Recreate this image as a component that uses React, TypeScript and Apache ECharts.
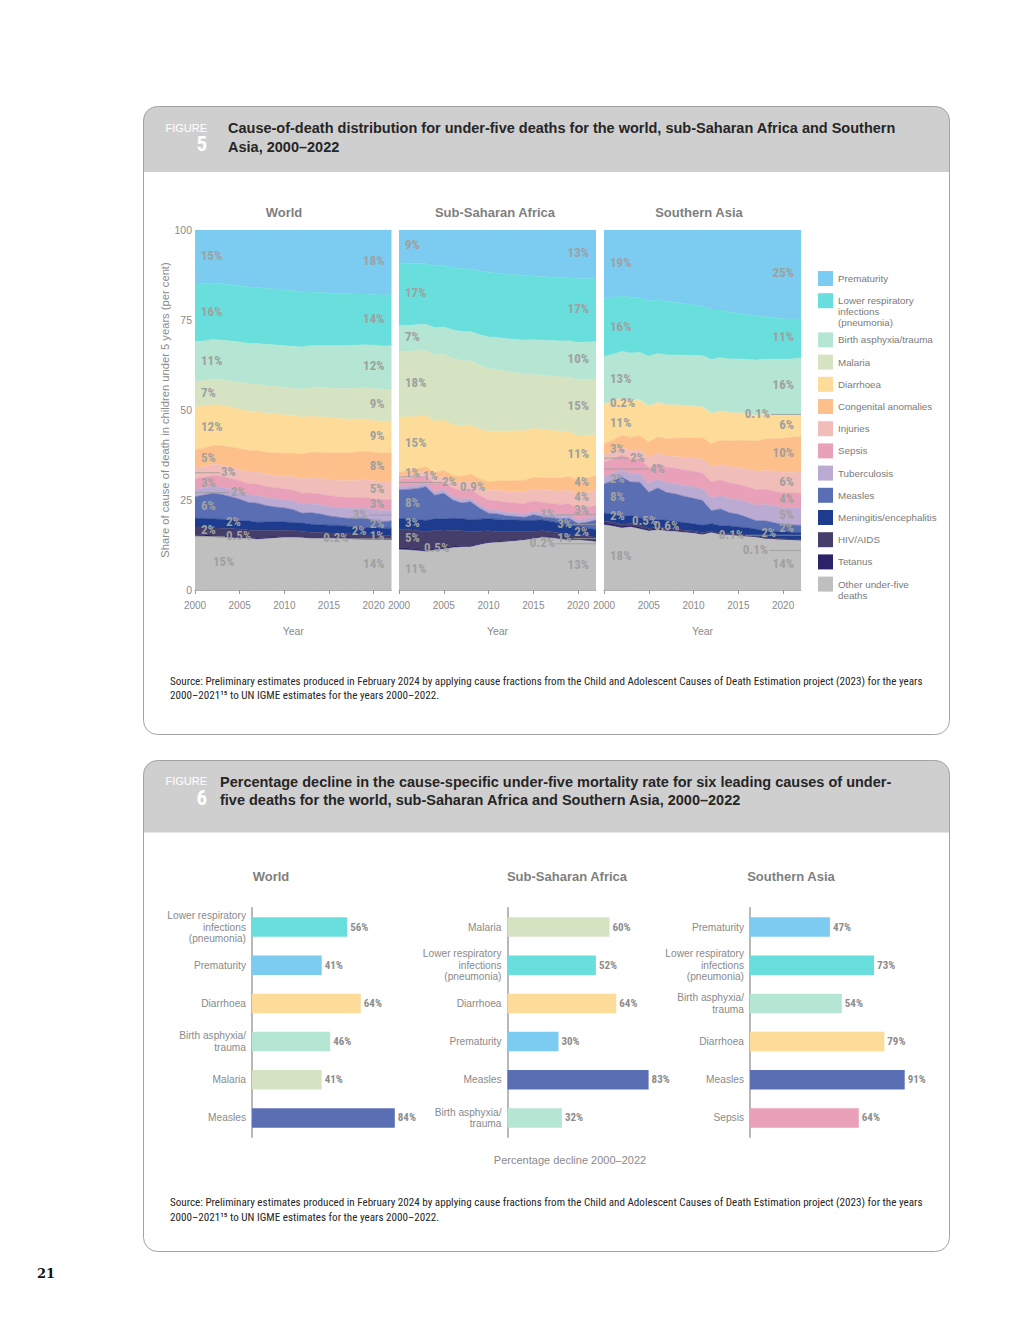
import React, { useEffect, useRef } from "react";
import * as echarts from "echarts";

// ---------- DATA ----------
const YEARS = ["2000","2001","2002","2003","2004","2005","2006","2007","2008","2009","2010","2011","2012","2013","2014","2015","2016","2017","2018","2019","2020","2021","2022"];

// World (% of under-five deaths, 2000..2022)
const W_PREM = [15.0,15.0,14.9,15.1,15.4,15.7,16.0,16.2,16.4,16.6,16.9,17.1,17.4,17.6,17.7,17.8,17.9,17.9,18.0,18.0,18.0,18.1,18.0];
const W_LRI = [16.0,16.0,15.9,15.9,15.9,15.9,15.9,15.8,15.8,15.7,15.7,15.6,15.5,15.2,15.0,14.8,14.6,14.5,14.4,14.3,14.2,14.2,14.2];
const W_BIRTH = [11.0,11.0,11.1,11.1,11.2,11.3,11.4,11.5,11.6,11.6,11.7,11.8,11.8,11.9,11.9,12.0,12.0,12.0,12.1,12.1,12.1,12.1,12.0];
const W_MALARIA = [7.0,7.1,7.2,7.3,7.4,7.6,7.7,7.8,7.8,7.8,7.7,7.7,7.9,8.1,8.3,8.4,8.5,8.6,8.7,8.8,8.9,9.0,9.0];
const W_DIARR = [12.0,11.8,11.5,11.3,11.2,11.1,11.0,10.9,10.9,10.9,10.8,10.6,10.4,10.2,10.0,9.9,9.7,9.5,9.3,9.1,8.9,8.8,8.7];
const W_CONG = [5.0,5.1,5.3,5.5,5.7,5.9,6.0,6.1,6.2,6.3,6.4,6.6,6.9,7.2,7.4,7.6,7.7,7.8,7.9,8.0,8.0,8.0,8.0];
const W_INJ = [3.0,3.0,3.1,3.1,3.2,3.2,3.3,3.4,3.4,3.5,3.6,3.8,4.1,4.3,4.4,4.5,4.6,4.7,4.8,4.9,5.0,5.0,5.0];
const W_SEPSIS = [3.0,3.0,3.1,3.1,3.1,3.1,3.2,3.2,3.2,3.1,3.1,3.1,3.1,3.1,3.1,3.1,3.1,3.0,3.0,3.0,3.0,3.0,3.0];
const W_TB = [2.0,2.0,2.0,2.0,2.0,2.1,2.1,2.2,2.2,2.3,2.3,2.4,2.5,2.5,2.6,2.6,2.7,2.8,2.8,2.9,3.0,3.0,3.0];
const W_MEASLES = [6.0,6.5,7.2,7.0,6.5,6.0,5.2,5.4,4.6,4.2,4.0,3.6,2.8,3.3,3.0,2.6,2.3,2.2,2.4,2.6,2.1,1.9,2.0];
const W_MENING = [2.4,2.4,2.5,2.5,2.5,2.5,2.5,2.4,2.4,2.4,2.3,2.3,2.3,2.3,2.2,2.2,2.2,2.1,2.1,2.1,2.0,2.0,2.0];
const W_HIV = [2.0,2.1,2.1,2.1,2.1,2.1,2.0,2.0,1.9,1.8,1.7,1.6,1.5,1.4,1.4,1.3,1.3,1.2,1.2,1.1,1.1,1.0,1.0];
const W_TETANUS = [0.5,0.5,0.5,0.5,0.5,0.4,0.4,0.4,0.4,0.3,0.3,0.3,0.3,0.3,0.3,0.2,0.2,0.2,0.2,0.2,0.2,0.2,0.2];
const W_OTHER = [15.0,15.0,14.9,14.8,14.7,14.6,14.5,14.3,14.4,14.6,14.8,14.8,14.7,14.6,14.6,14.6,14.5,14.4,14.3,14.2,14.1,14.0,14.0];

// Sub-Saharan Africa
const S_PREM = [9.0,9.2,9.3,9.5,9.8,10.0,10.3,10.6,10.9,11.2,11.5,11.8,12.0,12.2,12.4,12.6,12.7,12.8,12.9,13.0,13.0,13.0,13.0];
const S_LRI = [17.0,17.0,17.0,17.0,17.1,17.1,17.2,17.3,17.4,17.5,17.6,17.6,17.7,17.7,17.6,17.5,17.4,17.3,17.3,17.2,17.1,17.0,17.0];
const S_BIRTH = [7.0,7.1,7.2,7.3,7.5,7.6,7.8,8.0,8.2,8.4,8.6,8.8,9.0,9.2,9.4,9.5,9.6,9.7,9.8,9.9,10.0,10.0,10.0];
const S_MALARIA = [18.0,18.0,18.2,18.2,18.3,18.3,18.2,18.0,17.8,17.5,17.2,16.8,16.3,15.8,15.3,14.8,14.8,14.8,14.9,15.0,15.1,15.0,15.0];
const S_DIARR = [15.0,14.8,14.6,14.4,14.2,14.0,13.9,13.8,13.7,13.6,13.6,13.6,13.6,13.6,13.5,13.4,13.2,12.9,12.6,12.2,11.8,11.4,11.0];
const S_CONG = [1.0,1.1,1.2,1.3,1.4,1.6,1.7,1.9,2.0,2.2,2.4,2.6,2.8,3.0,3.1,3.2,3.3,3.5,3.6,3.7,3.8,3.9,4.0];
const S_INJ = [1.0,1.1,1.2,1.3,1.5,1.6,1.8,2.0,2.2,2.4,2.6,2.8,3.0,3.1,3.2,3.3,3.4,3.5,3.6,3.7,3.8,3.9,4.0];
const S_SEPSIS = [2.0,2.0,2.1,2.2,2.2,2.3,2.3,2.4,2.5,2.5,2.6,2.6,2.7,2.7,2.8,2.8,2.8,2.9,2.9,3.0,3.0,3.0,3.0];
const S_TB = [0.9,0.9,0.9,0.9,1.0,1.0,1.0,1.0,1.0,1.0,1.0,1.0,1.0,1.0,1.0,1.0,1.0,1.0,1.0,1.0,1.0,1.0,1.0];
const S_MEASLES = [7.8,8.0,8.5,9.5,6.5,7.2,5.0,4.3,5.0,3.0,1.5,1.5,1.2,1.0,0.8,1.5,1.0,1.0,1.2,2.0,0.7,1.5,2.6];
const S_MENING = [3.0,3.0,3.1,3.2,3.2,3.3,3.3,3.3,3.4,3.3,3.3,3.3,3.2,3.2,3.1,3.0,2.9,2.8,2.7,2.5,2.4,2.2,2.0];
const S_HIV = [5.0,5.1,5.1,5.0,4.9,4.7,4.4,4.1,3.8,3.4,3.0,2.7,2.4,2.2,2.0,1.8,1.6,1.5,1.4,1.2,1.1,1.0,1.0];
const S_TETANUS = [0.5,0.5,0.5,0.5,0.5,0.4,0.4,0.4,0.4,0.3,0.3,0.3,0.3,0.3,0.3,0.3,0.2,0.2,0.2,0.2,0.2,0.2,0.2];
const S_OTHER = [11.0,11.0,10.9,10.8,11.0,11.4,11.6,11.8,12.0,12.4,12.8,13.0,13.2,13.4,13.6,14.0,14.4,14.2,13.9,13.6,13.4,13.2,13.0];

// Southern Asia
const A_PREM = [19.0,19.0,18.9,19.2,19.4,19.6,19.9,20.3,20.7,21.1,21.5,21.9,22.4,22.8,23.2,23.6,24.0,24.3,24.6,24.8,25.0,25.1,25.0];
const A_LRI = [16.0,16.0,16.0,15.8,15.7,15.5,15.4,15.2,15.0,14.8,14.5,14.2,13.9,13.6,13.3,13.0,12.6,12.3,12.0,11.7,11.4,11.2,11.0];
const A_BIRTH = [13.0,13.2,13.3,13.4,13.5,13.7,13.8,14.0,14.1,14.3,14.4,14.6,15.0,15.1,15.1,15.2,15.3,15.5,15.6,15.7,15.8,15.9,16.0];
const A_MALARIA = [0.2,0.2,0.2,0.2,0.2,0.2,0.2,0.2,0.2,0.2,0.2,0.2,0.1,0.1,0.1,0.1,0.1,0.1,0.1,0.1,0.1,0.1,0.1];
const A_DIARR = [11.0,10.8,10.6,10.4,10.2,10.0,9.8,9.6,9.4,9.2,9.0,8.8,8.5,8.3,8.0,7.8,7.5,7.2,6.9,6.6,6.3,6.1,6.0];
const A_CONG = [3.0,3.2,3.5,3.8,4.0,4.3,4.6,4.9,5.2,5.5,5.8,6.1,6.5,6.9,7.3,7.7,8.1,8.5,8.9,9.3,9.6,9.8,10.0];
const A_INJ = [2.0,2.1,2.2,2.4,2.6,2.8,3.0,3.2,3.4,3.6,3.8,4.0,4.2,4.4,4.6,4.8,5.0,5.2,5.4,5.6,5.8,5.9,6.0];
const A_SEPSIS = [4.0,4.1,4.2,4.2,4.3,4.3,4.4,4.4,4.4,4.5,4.5,4.5,4.5,4.5,4.5,4.4,4.4,4.3,4.3,4.2,4.1,4.1,4.0];
const A_TB = [2.0,2.1,2.2,2.3,2.4,2.5,2.6,2.8,2.9,3.1,3.3,3.4,3.6,3.8,3.9,4.1,4.3,4.4,4.6,4.7,4.8,4.9,5.0];
const A_MEASLES = [8.0,9.5,11.3,9.5,10.2,7.8,9.0,7.9,7.9,7.5,7.3,7.1,3.6,4.8,3.8,3.6,2.9,2.4,2.8,2.4,2.0,2.0,2.0];
const A_MENING = [2.2,2.2,2.3,2.3,2.3,2.2,2.2,2.2,2.2,2.2,2.1,2.1,2.1,2.1,2.1,2.1,2.1,2.0,2.0,2.0,2.0,2.0,2.0];
const A_HIV = [0.5,0.5,0.5,0.5,0.4,0.4,0.4,0.4,0.3,0.3,0.3,0.3,0.2,0.2,0.2,0.2,0.2,0.1,0.1,0.1,0.1,0.1,0.1];
const A_TETANUS = [0.6,0.6,0.5,0.5,0.5,0.4,0.4,0.4,0.3,0.3,0.3,0.3,0.2,0.2,0.2,0.2,0.2,0.1,0.1,0.1,0.1,0.1,0.1];
const A_OTHER = [18.0,18.0,17.8,17.9,17.5,16.4,17.1,16.8,16.7,16.5,16.3,15.9,16.1,15.8,15.6,15.4,15.1,14.9,14.6,14.4,14.2,14.1,14.0];

// Causes (legend order, top of stack first)
const CAUSE_KEYS = ["prem","lri","birth","malaria","diarr","cong","inj","sepsis","tb","measles","mening","hiv","tetanus","other"];
const CAUSE_NAMES = ["Prematurity","Lower respiratory infections (pneumonia)","Birth asphyxia/trauma","Malaria","Diarrhoea","Congenital anomalies","Injuries","Sepsis","Tuberculosis","Measles","Meningitis/encephalitis","HIV/AIDS","Tetanus","Other under-five deaths"];
const LEGEND_TEXT = ["Prematurity","Lower respiratory\ninfections\n(pneumonia)","Birth asphyxia/trauma","Malaria","Diarrhoea","Congenital anomalies","Injuries","Sepsis","Tuberculosis","Measles","Meningitis/encephalitis","HIV/AIDS","Tetanus","Other under-five\ndeaths"];
const CAUSE_COLORS = ["#7ccbf1","#68dfdc","#b4e6d3","#d5e3c3","#fcdc98","#fdc08b","#f1bdb9","#e9a1b9","#bbaad2","#5a6fb3","#1e3c8e","#463e6a","#2a2367","#bfbfbf"];

const REGION_NAMES = ["World","Sub-Saharan Africa","Southern Asia"];

// Figure 6: percentage decline 2000–2022
const DECLINE_WORLD_CAUSES = ["lri","prem","diarr","birth","malaria","measles"];
const DECLINE_WORLD = [56,41,64,46,41,84];
const DECLINE_SSA_CAUSES = ["malaria","lri","diarr","prem","measles","birth"];
const DECLINE_SSA = [60,52,64,30,83,32];
const DECLINE_SA_CAUSES = ["prem","lri","birth","diarr","measles","sepsis"];
const DECLINE_SA = [47,73,54,79,91,64];

// ---------- STYLE ----------
const SANS = "'Liberation Sans', Arial, Helvetica, sans-serif";
const NARROW = "'Liberation Sans Narrow', 'Arial Narrow', 'Roboto Condensed', 'DejaVu Sans Condensed', 'Liberation Sans', sans-serif";
const GREY_TXT = "#8a8a8a";
const LABEL_GREY = "#a0a0a0";

const BAR_LABEL_TEXT: Record<string, string> = {
  prem: "Prematurity",
  lri: "Lower respiratory\ninfections\n(pneumonia)",
  birth: "Birth asphyxia/\ntrauma",
  malaria: "Malaria",
  diarr: "Diarrhoea",
  measles: "Measles",
  sepsis: "Sepsis",
};

const AREA_GRIDS = [
  { left: 195, top: 230, width: 196.5, height: 360 },
  { left: 399, top: 230, width: 197, height: 360 },
  { left: 604, top: 230, width: 197, height: 360 },
];
const BAR_GRIDS = [
  { left: 252, top: 908, width: 170, height: 229 },
  { left: 507.5, top: 908, width: 170, height: 229 },
  { left: 750, top: 908, width: 170, height: 229 },
];

// label placement tweaks for crowded bands (px)
const LABEL_TWEAKS: any[] = [
  {
    left: { other: { dx: 12 }, tetanus: { dx: 25, dy: 2, lead: true }, mening: { dx: 25 }, tb: { dx: 30, lead: true }, inj: { dx: 20, lead: true } },
    right: { tetanus: { dx: 36, lead: true }, mening: { dx: 18 }, tb: { dx: 17, lead: true } },
  },
  {
    left: { tetanus: { dx: 19 }, tb: { dx: 55 }, sepsis: { dx: 37, lead: true }, inj: { dx: 18, lead: true } },
    right: { tb: { dx: 34, dy: -3, lead: true }, measles: { dx: 17, lead: true }, hiv: { dx: 17, lead: true }, tetanus: { dx: 34, dy: 3, lead: true } },
  },
  {
    left: { tetanus: { dx: 44, dy: 3 }, hiv: { dx: 22 }, inj: { dx: 20, lead: true }, sepsis: { dx: 40, lead: true } },
    right: { malaria: { dx: 24, lead: true }, mening: { dx: 18, dy: -2 }, hiv: { dx: 50, dy: -4, lead: true }, tetanus: { dx: 26, dy: 11, lead: true } },
  },
];

function regionTable(r: number): Record<string, number[]> {
  if (r === 0) return { prem: W_PREM, lri: W_LRI, birth: W_BIRTH, malaria: W_MALARIA, diarr: W_DIARR, cong: W_CONG, inj: W_INJ, sepsis: W_SEPSIS, tb: W_TB, measles: W_MEASLES, mening: W_MENING, hiv: W_HIV, tetanus: W_TETANUS, other: W_OTHER };
  if (r === 1) return { prem: S_PREM, lri: S_LRI, birth: S_BIRTH, malaria: S_MALARIA, diarr: S_DIARR, cong: S_CONG, inj: S_INJ, sepsis: S_SEPSIS, tb: S_TB, measles: S_MEASLES, mening: S_MENING, hiv: S_HIV, tetanus: S_TETANUS, other: S_OTHER };
  return { prem: A_PREM, lri: A_LRI, birth: A_BIRTH, malaria: A_MALARIA, diarr: A_DIARR, cong: A_CONG, inj: A_INJ, sepsis: A_SEPSIS, tb: A_TB, measles: A_MEASLES, mening: A_MENING, hiv: A_HIV, tetanus: A_TETANUS, other: A_OTHER };
}

const STACK_KEYS = CAUSE_KEYS.slice().reverse(); // bottom first

// shares re-scaled so each year totals 100 per cent
function normalised(r: number): Record<string, number[]> {
  const t = regionTable(r);
  const out: Record<string, number[]> = {};
  const totals = YEARS.map((_, i) => CAUSE_KEYS.reduce((s, k) => s + t[k][i], 0));
  CAUSE_KEYS.forEach((k) => { out[k] = t[k].map((v, i) => (v / totals[i]) * 100); });
  return out;
}

function colorOf(key: string) { return CAUSE_COLORS[CAUSE_KEYS.indexOf(key)]; }

function buildOption() {
  const series: any[] = [];
  [0, 1, 2].forEach((r) => {
    const n = normalised(r);
    STACK_KEYS.forEach((k) => {
      const c = colorOf(k);
      series.push({
        type: "line", name: CAUSE_NAMES[CAUSE_KEYS.indexOf(k)], xAxisIndex: r, yAxisIndex: r, stack: "region" + r,
        data: n[k], symbol: "none", showSymbol: false, silent: true,
        lineStyle: { width: 0.6, color: c }, itemStyle: { color: c }, areaStyle: { color: c, opacity: 1 },
        emphasis: { disabled: true }, z: 2,
      });
    });
  });
  const barSets = [[DECLINE_WORLD_CAUSES, DECLINE_WORLD], [DECLINE_SSA_CAUSES, DECLINE_SSA], [DECLINE_SA_CAUSES, DECLINE_SA]] as any[];
  barSets.forEach(([cats, vals], r) => {
    series.push({
      type: "bar", xAxisIndex: 3 + r, yAxisIndex: 3 + r, barWidth: 19.5, silent: true,
      data: vals.map((v: number, i: number) => ({ value: v, itemStyle: { color: colorOf(cats[i]) } })),
      label: { show: true, position: "right", distance: 3, formatter: "{c}%", fontSize: 11, fontWeight: "bold", color: "#8c8c8c", fontFamily: NARROW },
    });
  });

  const xAxis: any[] = [];
  const yAxis: any[] = [];
  [0, 1, 2].forEach((r) => {
    xAxis.push({
      type: "category", gridIndex: r, data: YEARS, boundaryGap: false,
      axisLine: { show: true, lineStyle: { color: "#b0b0b0" } },
      axisTick: { show: true, interval: 4, length: 4, lineStyle: { color: "#9a9a9a" } },
      axisLabel: { interval: 4, fontSize: 10, color: GREY_TXT, margin: 10, fontFamily: SANS },
      name: "Year", nameLocation: "middle", nameGap: 35, nameTextStyle: { fontSize: 10.5, color: GREY_TXT, fontFamily: SANS },
      splitLine: { show: false },
    });
    yAxis.push({
      type: "value", gridIndex: r, min: 0, max: 100, interval: 25, show: r === 0,
      axisLine: { show: false }, axisTick: { show: false }, splitLine: { show: false },
      axisLabel: { fontSize: 10.5, color: GREY_TXT, margin: 3, fontFamily: SANS },
      name: r === 0 ? "Share of cause of death in children under 5 years (per cent)" : "",
      nameLocation: "middle", nameGap: 22, nameRotate: 90,
      nameTextStyle: { fontSize: 11.2, color: GREY_TXT, fontFamily: SANS },
    });
  });
  const barCats = [DECLINE_WORLD_CAUSES, DECLINE_SSA_CAUSES, DECLINE_SA_CAUSES];
  [0, 1, 2].forEach((r) => {
    xAxis.push({ type: "value", gridIndex: 3 + r, min: 0, max: 100, show: false, splitLine: { show: false } });
    yAxis.push({
      type: "category", gridIndex: 3 + r, inverse: true, data: barCats[r].map((k) => BAR_LABEL_TEXT[k]),
      axisLine: { show: true, lineStyle: { color: "#b8b8b8", width: 2 } }, axisTick: { show: false },
      axisLabel: { fontSize: 10.2, color: GREY_TXT, lineHeight: 11.7, margin: 6, fontFamily: SANS, align: "right" },
      splitLine: { show: false },
    });
  });

  return {
    animation: false,
    backgroundColor: "#ffffff",
    textStyle: { fontFamily: SANS },
    grid: [...AREA_GRIDS, ...BAR_GRIDS].map((g) => ({ ...g, containLabel: false })),
    xAxis, yAxis, series,
  };
}

function T(x: number, y: number, text: string, font: string, fill: string, align = "left", v = "middle", extra: any = {}) {
  return { type: "text", x, y, silent: true, z: 30, style: { text, font, fill, textAlign: align, textVerticalAlign: v, ...extra } };
}

function boxGraphics(y: number, h: number, headerH: number) {
  return [
    { type: "rect", silent: true, z: -10, shape: { x: 143.5, y, width: 806, height: h, r: 14 }, style: { fill: "#ffffff" } },
    { type: "rect", silent: true, z: -9, shape: { x: 143.5, y, width: 806, height: headerH, r: [14, 14, 0, 0] }, style: { fill: "#d0cfd0" } },
    { type: "rect", silent: true, z: -8, shape: { x: 143.5, y, width: 806, height: h, r: 14 }, style: { fill: "transparent", stroke: "#a3a3a3", lineWidth: 1 } },
  ];
}

function staticGraphics() {
  const g: any[] = [];
  g.push(...boxGraphics(106.5, 628, 65.5));
  g.push(...boxGraphics(760.5, 491, 72));

  const TITLE_FONT = `bold 14.5px ${SANS}`;
  const SRC_FONT = `11.1px ${NARROW}`;

  // figure 5 header
  g.push(T(207, 128, "FIGURE", `11px ${SANS}`, "#ffffff", "right"));
  g.push(T(207, 144, "5", `bold 21px ${NARROW}`, "#ffffff", "right"));
  g.push(T(228, 128, "Cause-of-death distribution for under-five deaths for the world, sub-Saharan Africa and Southern", TITLE_FONT, "#262626"));
  g.push(T(228, 147, "Asia, 2000–2022", TITLE_FONT, "#262626"));

  // figure 5 panel titles
  const t5x = [284, 495, 699];
  REGION_NAMES.forEach((n, i) => g.push(T(t5x[i], 212, n, `bold 13px ${SANS}`, "#7f7f7f", "center")));

  // legend
  let ly = 271;
  CAUSE_KEYS.forEach((k, i) => {
    g.push({ type: "rect", silent: true, z: 30, shape: { x: 818, y: ly, width: 15, height: 15 }, style: { fill: CAUSE_COLORS[i] } });
    g.push(T(838, ly + 2, LEGEND_TEXT[i], `9.8px ${SANS}`, "#7a7a7a", "left", "top", { lineHeight: 11 }));
    const lines = LEGEND_TEXT[i].split("\n").length;
    ly += 22.2 + (lines > 1 && i < CAUSE_KEYS.length - 1 ? (lines - 1) * 8.5 : 0);
  });

  // figure 5 source
  g.push(T(170, 681, "Source: Preliminary estimates produced in February 2024 by applying cause fractions from the Child and Adolescent Causes of Death Estimation project (2023) for the years", SRC_FONT, "#262626"));
  g.push(T(170, 695, "2000–2021¹⁵ to UN IGME estimates for the years 2000–2022.", SRC_FONT, "#262626"));

  // figure 6 header
  g.push(T(207, 781, "FIGURE", `11px ${SANS}`, "#ffffff", "right"));
  g.push(T(207, 798, "6", `bold 21px ${NARROW}`, "#ffffff", "right"));
  g.push(T(220, 782, "Percentage decline in the cause-specific under-five mortality rate for six leading causes of under-", TITLE_FONT, "#262626"));
  g.push(T(220, 800, "five deaths for the world, sub-Saharan Africa and Southern Asia, 2000–2022", TITLE_FONT, "#262626"));

  const t6x = [271, 567, 791];
  REGION_NAMES.forEach((n, i) => g.push(T(t6x[i], 876, n, `bold 13px ${SANS}`, "#7f7f7f", "center")));
  g.push(T(570, 1160, "Percentage decline 2000–2022", `11px ${SANS}`, GREY_TXT, "center"));

  g.push(T(170, 1202, "Source: Preliminary estimates produced in February 2024 by applying cause fractions from the Child and Adolescent Causes of Death Estimation project (2023) for the years", SRC_FONT, "#262626"));
  g.push(T(170, 1217, "2000–2021¹⁵ to UN IGME estimates for the years 2000–2022.", SRC_FONT, "#262626"));

  // page number
  g.push(T(37, 1273, "21", `bold 13px 'DejaVu Serif', 'Liberation Serif', serif`, "#111111"));
  return g;
}

function fmtShare(v: number) {
  return (v < 1 ? v.toFixed(1) : String(Math.round(v))) + "%";
}

function labelGraphics(chart: any) {
  const g: any[] = [];
  [0, 1, 2].forEach((r) => {
    const raw = regionTable(r);
    const n = normalised(r);
    [0, YEARS.length - 1].forEach((idx, side) => {
      const tweaks = side === 0 ? LABEL_TWEAKS[r].left : LABEL_TWEAKS[r].right;
      let cum = 0;
      STACK_KEYS.forEach((k) => {
        const v = n[k][idx];
        const mid = cum + v / 2;
        cum += v;
        const p = chart.convertToPixel({ xAxisIndex: r, yAxisIndex: r }, [idx, mid]);
        if (!p) return;
        const tw = tweaks[k] || {};
        const dx = tw.dx || 0;
        const y = p[1] + (tw.dy || 0) - 1.5;
        const x = side === 0 ? p[0] + 6 + dx : p[0] - 7 - dx;
        if (tw.lead) {
          g.push({ type: "line", silent: true, z: 40, shape: { x1: p[0], y1: y + 1, x2: side === 0 ? x - 1 : x + 1, y2: y + 1 }, style: { stroke: "#9a9a9a", lineWidth: 0.8 } });
        }
        g.push(T(x, y, fmtShare(raw[k][idx]), `bold 13px ${NARROW}`, LABEL_GREY, side === 0 ? "left" : "right"));
      });
    });
  });
  return g;
}

export default function App() {
  const ref = useRef<HTMLDivElement | null>(null);
  useEffect(() => {
    if (!ref.current) return;
    const chart = echarts.init(ref.current, null, { renderer: "svg" });
    chart.setOption(buildOption());
    chart.setOption({ graphic: { elements: [...staticGraphics(), ...labelGraphics(chart)] } });
    return () => chart.dispose();
  }, []);
  return (
    <div
      ref={ref}
      style={{ position: "absolute", left: 0, top: 0, width: 1020, height: 1320, background: "#ffffff" }}
    />
  );
}
